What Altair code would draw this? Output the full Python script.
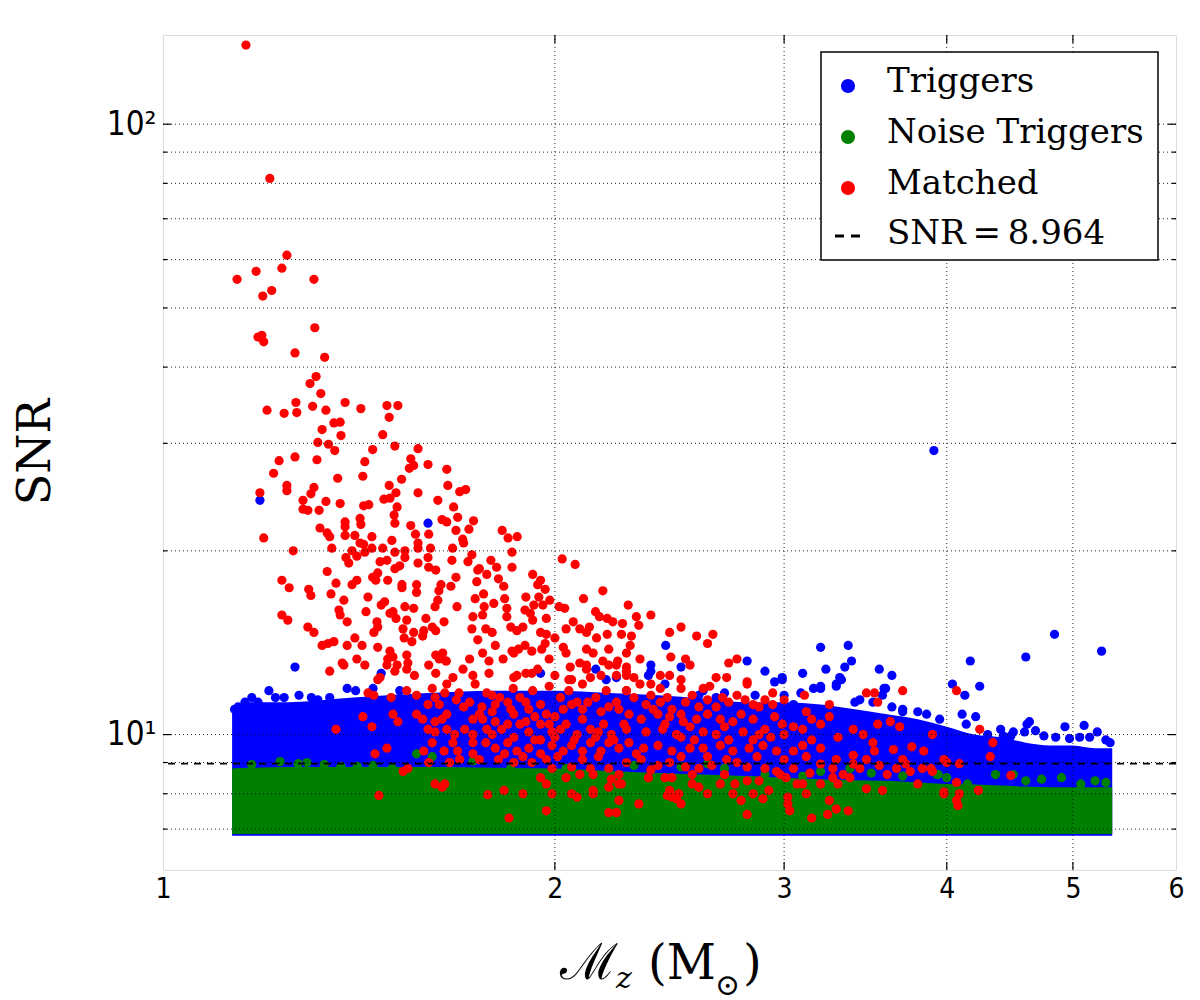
import altair as alt
import pandas as pd

# ---------------- data ----------------
matched_pts = [
    (1.158,134.8),(1.208,81.5),(1.245,61.0),(1.179,57.4),(1.234,58.1),(1.14,55.7),(1.306,55.7),(1.212,53.4),
    (1.193,52.3),(1.308,46.4),(1.191,45.1),(1.183,44.8),(1.195,44.0),(1.263,42.2),(1.331,41.5),
    (1.311,38.6),(1.297,37.6),(1.322,36.2),(1.265,35.0),(1.202,34.0),(1.239,33.6),(1.267,33.7),(1.303,34.5),
    (1.334,34.0),(1.380,35.0),(1.419,34.2),(1.486,34.6),(1.515,34.6),(1.492,33.1),(1.353,32.4),(1.368,32.5),
    (1.325,31.6),(1.37,30.9),(1.315,30.1),(1.34,29.9),(1.355,29.2),(1.475,31.0),(1.449,29.3),(1.507,29.7),
    (1.57,29.4),(1.228,28.1),(1.263,28.5),(1.313,28.2),(1.216,26.8),(1.429,28.0),(1.55,28.3),(1.558,27.6),
    (1.546,27.3),(1.598,27.7),(1.652,27.2),(1.362,26.3),(1.424,26.5),(1.525,26.2),(1.245,25.6),(1.245,25.1),
    (1.187,24.9),(1.306,25.4),(1.299,24.8),(1.492,25.6),(1.51,24.9),(1.57,24.9),(1.655,25.6),(1.69,25.0),
    (1.708,25.2),(1.281,24.2),(1.281,23.4),(1.292,23.3),(1.334,24.1),(1.368,23.9),(1.318,23.3),(1.426,23.7),
    (1.439,23.8),(1.478,24.3),(1.494,24.4),(1.513,23.6),(1.505,22.9),(1.507,22.2),(1.417,22.6),(1.419,22.1),
    (1.626,24.2),(1.672,23.6),(1.684,22.7),(1.638,22.5),(1.652,22.3),(1.732,22.4),(1.55,22.0),(1.38,22.3),
    (1.38,21.9),(1.32,21.8),(1.337,21.4),(1.343,21.1),(1.38,21.2),(1.404,21.2),(1.417,20.6),(1.426,20.5),
    (1.447,21.1),(1.447,20.2),(1.499,20.8),(1.563,21.3),(1.57,20.6),(1.57,20.2),(1.6,21.3),(1.605,20.2),
    (1.679,21.6),(1.699,20.9),(1.702,20.6),(1.718,21.7),(1.195,21.0),(1.259,20.0),(1.348,20.2),(1.397,20.0),
    (1.409,19.6),(1.429,19.9),(1.475,20.2),(1.507,19.9),(1.534,20.0),(1.534,19.5),(1.382,19.5),(1.389,19.1),
    (1.468,19.2),(1.486,19.3),(1.669,20.2),(1.667,19.3),(1.715,19.2),(1.727,19.7),(1.598,19.5),(1.6,18.8),
    (1.62,18.6),(1.57,19.1),(1.507,18.7),(1.52,18.9),(1.745,18.6),(1.337,18.5),(1.234,17.9),(1.25,17.4),
    (1.358,17.7),(1.397,17.6),(1.409,17.9),(1.449,18.1),(1.462,18.4),(1.457,17.9),(1.488,17.9),(1.526,17.6),
    (1.526,17.4),(1.566,17.6),(1.566,17.1),(1.635,17.6),(1.679,18.1),(1.664,17.5),(1.629,17.2),(1.294,17.3),
    (1.299,16.9),(1.346,17.0),(1.377,16.6),(1.437,16.8),(1.471,16.3),(1.48,16.5),(1.534,16.2),(1.558,16.1),
    (1.502,15.9),(1.618,16.2),(1.626,16.6),(1.682,16.2),(1.234,15.7),(1.247,15.4),(1.365,16.0),(1.368,15.7),
    (1.385,15.3),(1.432,15.9),(1.494,15.8),(1.51,15.5),(1.539,15.4),(1.592,15.5),(1.644,15.3),(1.46,15.3),
    (1.462,15.0),(1.452,14.7),(1.529,14.9),(1.558,14.7),(1.586,14.8),(1.61,15.0),(1.292,15.0),(1.306,14.7),
    (1.325,14.0),(1.339,14.1),(1.353,14.2),(1.385,14.0),(1.404,14.4),(1.422,14.0),(1.462,13.9),(1.494,13.7),
    (1.532,14.4),(1.553,14.2),(1.583,14.5),(1.62,14.8),(1.343,12.7),(1.373,13.1),(1.377,13.0),(1.409,13.3),
    (1.429,13.0),(1.488,13.3),(1.502,13.4),(1.507,12.7),(1.539,13.5),(1.542,13.1),(1.513,13.0),(1.62,13.5),
    (1.63,13.3),(1.64,13.6),(1.65,13.2),
    (1.822,21.6),(1.841,21.0),(1.871,21.1),(1.854,19.9),(1.786,19.3),(1.804,18.8),(1.75,18.7),(1.773,18.3),
    (1.854,18.8),(1.81,18.0),(1.827,17.5),(1.923,18.3),(1.95,17.9),(1.94,17.6),(1.966,17.3),(2.026,19.4),
    (2.073,19.0),(1.742,17.8),(1.763,17.0),(1.83,16.7),(1.9,16.8),(1.944,16.8),(1.982,16.6),(2.104,16.7),
    (2.177,17.2),(2.277,16.3),(1.737,16.7),(1.795,16.4),(1.927,16.3),(1.958,16.3),(2.015,16.2),(2.035,16.1),
    (1.837,16.1),(1.897,16.0),(1.765,16.2),(1.73,15.6),(1.76,15.7),(1.837,15.6),(1.915,15.8),(1.923,15.4),
    (1.97,15.5),(2.149,15.9),(2.164,15.6),(2.194,15.5),(2.216,15.3),(2.254,15.2),(2.31,15.6),(2.37,15.7),
    (2.32,15.1),(2.066,15.3),(1.727,14.9),(1.77,14.9),(1.79,14.7),(1.85,15.0),(1.87,14.8),(1.89,15.0),
    (1.95,14.7),(1.97,14.6),(2.04,14.9),(2.09,14.9),(2.115,14.7),(2.126,15.0),(2.153,14.4),(2.194,14.6),
    (2.25,14.6),(2.29,14.5),(2.45,14.7),(2.5,15.0),(2.57,14.5),(2.645,14.6),(2.62,14.1),(1.745,14.3),
    (1.8,14.0),(1.854,13.7),(1.875,13.8),(1.897,14.0),(1.92,13.7),(1.954,13.8),(1.966,14.1),(2.0,14.4),
    (2.03,13.9),(2.04,13.6),(2.115,13.8),(2.14,13.6),(2.2,13.8),(2.27,13.6),(2.285,14.0),(1.76,13.6),
    (1.78,13.2),(1.825,13.3),(1.86,13.6),(1.98,13.3),(2.09,13.1),(2.115,13.0),(2.055,12.9),(2.177,13.2),
    (2.2,13.0),(2.235,13.2),(2.27,12.9),(2.325,13.3),(2.455,13.4),(2.52,13.3),(2.54,13.0),(2.72,13.1),
    (2.76,13.3),(1.94,12.8),(1.9,12.6),(1.86,12.4),(2.0,12.5),(2.05,12.3),(1.78,12.6),(2.13,12.4),
    (2.23,12.5),(2.3,12.4),(1.87,12.5),(1.92,12.6),(2.06,12.3),(2.115,12.8),(2.17,12.5),(2.23,13.0),
    (2.27,12.5),(1.462,12.3),(1.468,12.4),(1.486,13.0),(1.539,12.8),(1.56,12.5),(1.6,13.0),(1.62,12.6),
    (1.65,13.2),(1.67,12.4),(1.7,12.8),(1.72,13.3),(1.73,12.5),
    (3.7,11.8),(3.47,11.7),(3.52,11.7),(3.11,11.6),(4.07,11.8),
    (1.437,11.7),(1.452,11.6),(1.497,11.5),(1.539,11.8),(1.566,11.6),(1.61,11.9),(1.618,11.5),(1.652,12.1),
    (1.646,11.7),(1.688,11.7),(1.737,12.1),(1.598,11.2),(1.63,11.2),(1.702,11.1),(1.566,10.8),(1.583,10.6),
    (1.618,10.5),(1.638,10.6),(1.652,10.8),(1.73,10.6),(1.424,10.7),(1.502,10.8),(1.515,10.5),(1.358,10.2),
    (1.447,10.3),(1.598,10.2),(1.618,10.1),(1.652,10.2),(1.675,10.0),(1.705,10.2),(1.73,10.0),(1.61,9.7),
    (1.67,9.7),(1.73,9.7),(1.486,9.5),(1.455,9.3),(1.586,9.4),(1.644,9.4),(1.684,9.4),(1.69,9.1),
    (1.73,9.3),(1.529,8.7),(1.542,8.8),(1.618,8.3),(1.638,8.2),(1.646,8.3),(1.465,7.95),(1.776,7.97),
    (1.828,8.1),(1.89,8.0),(1.844,7.3),(1.97,7.5),(1.99,8.0),(2.06,8.0),(2.08,7.9),(2.14,8.1),
    (2.14,8.0),(2.2,8.2),(2.24,7.8),(2.2,7.45),(2.23,7.45),(2.25,8.3),
    (1.773,11.7),(1.79,11.6),(1.814,11.5),(1.858,11.9),(1.88,11.5),(1.923,11.8),(1.95,11.2),(1.98,12.0),
    (2.02,11.5),(2.05,11.8),(2.08,11.3),(2.1,12.1),(2.15,11.5),(2.19,11.8),(2.23,11.3),(2.27,11.8),
    (1.758,11.1),(1.79,10.9),(1.85,11.0),(1.91,11.0),(1.97,10.8),(2.03,11.0),(2.1,11.0),(2.17,10.9),
    (2.24,11.0),(1.76,10.6),(1.773,10.2),(1.82,10.2),(1.86,10.8),(1.88,10.4),(1.91,10.1),(1.95,10.4),
    (1.99,10.1),(2.04,10.4),(2.08,10.0),(2.13,10.2),(2.18,10.4),(2.21,10.0),(2.26,10.4),(1.77,9.7),
    (1.8,9.5),(1.84,9.7),(1.87,9.4),(1.91,9.5),(1.95,9.8),(1.95,9.3),(1.99,9.6),(2.03,9.4),
    (2.06,9.6),(2.1,9.4),(2.13,9.7),(2.17,9.4),(2.2,9.7),(2.24,9.5),(1.81,9.1),(1.86,9.0),
    (1.92,9.0),(1.97,9.1),(1.99,8.8),(2.06,8.85),(2.1,9.1),(2.13,8.8),(2.14,8.6),(2.2,8.8),
    (2.24,8.6),(1.95,8.5),(1.97,8.3),(2.04,8.5),(2.09,8.6),(2.21,8.45),
    (1.68,11.4),(1.72,11.3),(1.75,10.8),(1.8,11.2),(1.84,11.3),(1.9,11.3),(1.93,10.7),(2.0,10.7),
    (2.06,11.2),(2.12,11.3),(2.2,11.1),(1.8,10.5),(1.84,10.4),(1.9,10.5),(1.98,10.4),(2.02,10.2),
    (2.1,10.6),(2.16,10.1),(1.79,10.0),(1.86,9.9),(1.93,9.8),(2.0,9.9),(2.07,9.8),(2.15,9.9),
    (2.22,9.8),(1.75,9.1),(1.83,9.3),(1.89,9.2),(2.01,9.2),(2.16,9.2),(1.6,9.0),(1.66,9.0),
    (2.37,11.6),(2.44,11.5),(2.55,11.6),(2.62,11.4),(2.69,11.5),(2.8,11.4),(2.9,11.4),(2.38,11.0),
    (2.43,10.4),(2.5,10.8),(2.54,10.3),(2.62,10.8),(2.7,10.3),(2.78,10.8),(2.95,10.7),(3.0,10.0),
    (3.12,10.9),(3.2,10.4),(2.5,9.9),(2.56,9.8),(2.72,9.8),(2.84,9.8),(2.93,9.9),(3.15,9.8),
    (3.3,9.9),(3.45,10.0),(2.31,9.3),(2.5,9.2),(2.62,9.2),(2.71,9.1),(2.86,9.2),(3.0,9.1),
    (3.12,9.2),(3.47,9.1),(3.7,9.1),(2.37,8.75),(2.55,8.6),(2.7,8.6),(2.98,8.6),(3.14,8.65),
    (3.33,8.6),(3.55,8.9),(3.72,8.95),(3.3,8.3),(2.62,8.0),(2.92,8.1),(3.12,8.0),
    (2.41,12.5),(2.45,12.5),(2.5,12.3),(2.27,12.7),(2.325,12.1),(2.37,12.1),(2.66,12.4),(2.71,12.4),
    (2.81,12.2),(2.81,12.1),(2.6,11.9),(2.63,12.0),(2.27,11.8),(2.41,11.9),(2.5,11.9),(2.94,11.7),
    (2.3,11.5),(2.35,11.2),(2.41,11.3),(2.46,11.0),(2.52,11.3),(2.58,11.1),(2.66,11.1),(2.72,11.3),
    (2.76,11.6),(2.84,11.2),(2.87,11.1),(2.94,11.2),(3.0,11.4),(3.25,11.2),(2.28,10.8),(2.33,10.6),
    (2.4,10.8),(2.45,10.7),(2.51,10.5),(2.57,10.6),(2.68,10.6),(2.74,10.5),(2.84,10.6),(2.9,10.2),
    (2.99,10.4),(3.05,10.3),(3.1,10.2),(3.15,10.6),(3.25,10.7),(3.39,10.2),(3.54,10.4),(3.62,10.5),
    (3.68,10.3),(3.54,11.3),(2.27,10.2),(2.35,10.1),(2.42,10.2),(2.48,10.0),(2.6,10.1),(2.66,10.0),
    (2.79,10.1),(2.87,10.0),
    (2.28,9.7),(2.34,9.5),(2.4,9.6),(2.46,9.4),(2.54,9.5),(2.6,9.5),(2.68,9.6),(2.74,9.4),
    (2.82,9.5),(2.89,9.6),(2.96,9.4),(3.05,9.4),(3.1,9.6),(3.2,9.5),(3.29,9.1),(3.39,9.25),
    (3.51,9.7),(3.52,9.4),(3.64,9.45),(3.76,9.55),(3.84,9.4),(3.9,10.0),(3.98,9.1),(2.27,9.0),
    (2.33,9.1),(2.4,8.9),(2.45,9.0),(2.52,8.85),(2.58,8.8),(2.64,8.9),(2.76,9.0),(2.81,8.85),
    (2.9,8.8),(2.96,8.7),(3.05,8.8),(3.2,8.95),(3.27,8.8),(3.39,8.95),(3.43,8.8),(3.6,8.6),
    (3.66,8.8),(3.75,8.7),(3.83,8.8),(3.89,8.8),
    (2.24,8.3),(2.36,8.5),(2.43,8.5),(2.46,8.5),(2.55,8.3),(2.58,8.2),(2.68,8.3),(2.75,8.3),
    (2.81,8.4),(2.87,8.4),(3.01,8.5),(3.07,8.3),(3.1,8.3),(3.2,8.3),(3.27,8.5),(3.37,8.5),
    (3.47,8.15),(3.57,8.1),(3.8,8.3),(3.98,8.0),(2.45,8.1),(2.49,8.0),(2.44,7.95),(2.46,7.9),
    (2.48,7.85),(2.5,7.7),(2.32,7.7),(2.74,8.0),(2.78,7.8),(2.84,8.0),(2.89,7.85),(3.02,7.9),
    (3.02,7.7),(3.03,7.5),(2.81,7.4),(3.15,7.3),(3.25,7.8),(3.24,7.4),(3.29,7.55),(3.36,7.5),
    (4.24,10.2),(4.34,9.7),(4.32,9.2),(4.0,9.0),(4.09,8.96),(3.9,8.7),(4.48,8.57),(4.07,8.35),
    (3.98,8.05),(4.09,8.0),(4.23,8.1),(4.07,7.8),(4.08,7.65),
]

trigger_pts = [
    (1.187,24.2),(1.598,22.2),(1.263,12.9),(1.471,12.6),(2.433,14.0),(2.37,13.0),(2.37,12.7),(2.5,12.9),
    (2.81,13.2),(2.9,12.7),(3.2,13.9),(3.36,14.0),(3.38,13.2),(3.23,12.8),(3.34,12.9),(3.1,12.6),
    (3.32,12.3),(3.29,12.0),(3.2,11.9),(3.16,11.9),(2.99,12.3),(3.55,12.8),(3.63,12.5),(3.58,11.9),
    (3.57,11.6),(3.09,11.7),(4.04,12.1),(4.17,13.2),(4.6,13.4),(4.84,14.6),(5.26,13.7),(3.91,29.2),
    (4.11,10.8),(4.14,10.4),(4.21,10.7),(4.03,10.0),(4.3,10.0),(4.63,10.5),(4.61,10.4),(4.59,10.1),
    (4.68,10.15),(4.93,10.3),(5.1,10.35),(5.22,10.1),(4.97,9.85),(5.06,9.9),(4.42,9.95),(4.48,9.95),
    (2.99,12.4),(2.95,12.2),(3.31,12.4),(3.29,12.1),(3.2,12.0),(3.59,11.9),(3.43,11.4),(3.51,11.3),
    (3.63,11.1),(3.7,10.9),(3.86,10.8),(3.05,11.2),(2.43,12.1),(2.36,12.5),(2.58,11.6),(2.66,11.5),
    (2.15,12.8),(1.95,12.6),(2.19,12.3),(2.23,12.4),(4.24,12.0),(4.13,11.6),
    (1.206,11.8),(1.17,11.5),(1.239,11.5),(1.272,11.6),(1.142,11.1),(1.156,11.3),(1.183,11.3),(1.315,11.4),
    (1.343,11.5),(1.385,11.9),(1.406,11.8),(1.362,11.2),
    (1.45,11.9),(1.52,11.8),(2.6,11.8),(2.7,11.7),(2.85,11.6),(3.0,11.6),(3.4,11.3),(3.7,11.0),
    (3.8,10.9),(3.95,10.6),(4.4,10.2),(4.5,10.1),(4.75,9.95),(4.85,9.9),(5.15,9.9),(5.3,9.8),
    (5.34,9.7),(1.135,11.0),(1.22,11.5),(1.3,11.5),
]

noise_pts = [
    (1.23,9.03),(1.27,8.96),(1.29,9.0),(1.17,8.93),(1.33,8.93),(1.37,8.87),(1.45,8.9),(1.5,8.8),
    (1.566,9.3),(1.61,9.2),(1.73,9.05),(1.41,8.87),(1.85,8.8),(2.04,8.8),(2.62,8.96),(3.37,8.8),
    (3.93,8.6),(3.94,8.6),(4.36,8.6),(4.5,8.6),(4.73,8.45),(4.9,8.5),(5.07,8.3),(4.15,8.3),
    (2.2,8.75),(2.9,8.6),(3.1,8.55),(2.3,8.9),(2.5,8.85),(2.7,8.8),(3.2,8.7),(3.5,8.65),
    (3.7,8.55),(4.0,8.5),(4.6,8.4),(5.2,8.4),(5.3,8.35),
]

# dense trigger / noise-trigger bands (upper and lower edges)
band_mass   = [1.13, 1.16, 1.25, 1.4, 1.6, 1.8, 2.0, 2.2, 2.4, 2.6, 2.8, 3.0,
               3.2, 3.4, 3.6, 3.8, 4.0, 4.2, 4.4, 4.6, 4.8, 5.0, 5.2, 5.36]
trig_top    = [10.9, 11.3, 11.3, 11.5, 11.7, 11.8, 11.8, 11.7, 11.6, 11.45, 11.3, 11.3,
               11.2, 11.0, 10.8, 10.6, 10.3, 10.0, 9.9, 9.7, 9.6, 9.6, 9.5, 9.5]
trig_bottom = [6.83] * len(band_mass)
noise_top   = [8.8, 8.82, 8.85, 8.85, 8.85, 8.82, 8.8, 8.72, 8.65, 8.6, 8.55, 8.5,
               8.45, 8.42, 8.4, 8.35, 8.3, 8.28, 8.25, 8.22, 8.2, 8.2, 8.2, 8.2]
noise_bottom = [6.87] * len(band_mass)

snr_threshold = 8.964
x_ticks = [1, 2, 3, 4, 5, 6]
x_grid = [2, 3, 4, 5]
y_major = [10, 100]
y_minor = [7, 8, 9, 20, 30, 40, 50, 60, 70, 80, 90]
legend_labels = ["Triggers", "Noise Triggers", "Matched", "SNR\u2009=\u20098.964"]
colors = {"Triggers": "#0000ff", "Noise Triggers": "#008000", "Matched": "#ff0000"}

# ---------------- frames ----------------
def pts_df(pts):
    return pd.DataFrame({"mass": [p[0] for p in pts], "snr": [p[1] for p in pts]})

red_df = pts_df(matched_pts)
blue_df = pts_df(trigger_pts)
green_df = pts_df(noise_pts)
band_df = pd.DataFrame({"mass": band_mass, "t_top": trig_top, "t_bot": trig_bottom,
                        "n_top": noise_top, "n_bot": noise_bottom})
thr_df = pd.DataFrame({"snr": [snr_threshold]})
xgrid_df = pd.DataFrame({"mass": x_grid})
ymaj_df = pd.DataFrame({"snr": y_major})
ymin_df = pd.DataFrame({"snr": y_minor})
yall_df = pd.DataFrame({"snr": y_major + y_minor})
one = pd.DataFrame({"k": [0]})

W, H = 1013, 835
xs = alt.Scale(type="log", domain=[1, 6], nice=False, zero=False)
ys = alt.Scale(type="log", domain=[6, 140], nice=False, zero=False)

tick_font = "DejaVu Sans Condensed, DejaVu Sans, sans-serif"
ax_common = dict(grid=False, ticks=False, domain=False, title=None, labelColor="black")
x_axis = alt.Axis(values=x_ticks, format="d", labelFont=tick_font, labelFontSize=28,
                  labelPadding=5, labelFlush=False, labelOverlap=False, **ax_common)
y_axis = alt.Axis(values=y_major + y_minor,
                  labelExpr="datum.value == 10 ? '10\u00b9' : (datum.value == 100 ? '10\u00b2' : '')",
                  labelFont=tick_font, labelFontSize=33, labelPadding=7,
                  labelOverlap=False, labelFlush=False, **ax_common)

X = alt.X("mass:Q", scale=xs, axis=x_axis)
Y = alt.Y("snr:Q", scale=ys, axis=y_axis)

base_band = alt.Chart(band_df)
blue_band = base_band.mark_area(color=colors["Triggers"], interpolate="monotone").encode(
    x=alt.X("mass:Q", scale=xs, axis=x_axis), y=alt.Y("t_top:Q", scale=ys, axis=y_axis), y2="t_bot:Q")
green_band = base_band.mark_area(color=colors["Noise Triggers"], interpolate="monotone").encode(
    x=alt.X("mass:Q", scale=xs), y=alt.Y("n_top:Q", scale=ys), y2="n_bot:Q")

PT = 85
blue_pts = alt.Chart(blue_df).mark_circle(size=PT, opacity=1, color=colors["Triggers"]).encode(x=X, y=Y)
green_pts = alt.Chart(green_df).mark_circle(size=PT, opacity=1, color=colors["Noise Triggers"]).encode(x=X, y=Y)
red_pts = alt.Chart(red_df).mark_circle(size=PT, opacity=1, color=colors["Matched"]).encode(x=X, y=Y)

# dotted grid drawn above the points (as in the reference), below the legend
grid_style = dict(color="black", strokeDash=[1, 3], strokeWidth=1, opacity=0.85)
xgrid = alt.Chart(xgrid_df).mark_rule(**grid_style).encode(x=alt.X("mass:Q", scale=xs))
ygrid = alt.Chart(yall_df).mark_rule(**grid_style).encode(y=alt.Y("snr:Q", scale=ys))
thr = alt.Chart(thr_df).mark_rule(color="black", strokeDash=[7, 6], strokeWidth=1.6).encode(
    y=alt.Y("snr:Q", scale=ys))

# inward ticks on all four sides
tk = dict(color="black", strokeWidth=1.2)
ticks = [
    alt.Chart(xgrid_df).mark_rule(**tk).encode(x=alt.X("mass:Q", scale=xs), y=alt.value(H), y2=alt.value(H - 8)),
    alt.Chart(xgrid_df).mark_rule(**tk).encode(x=alt.X("mass:Q", scale=xs), y=alt.value(0), y2=alt.value(8)),
    alt.Chart(ymaj_df).mark_rule(**tk).encode(y=alt.Y("snr:Q", scale=ys), x=alt.value(0), x2=alt.value(8)),
    alt.Chart(ymaj_df).mark_rule(**tk).encode(y=alt.Y("snr:Q", scale=ys), x=alt.value(W - 8), x2=alt.value(W)),
    alt.Chart(ymin_df).mark_rule(**tk).encode(y=alt.Y("snr:Q", scale=ys), x=alt.value(0), x2=alt.value(4)),
    alt.Chart(ymin_df).mark_rule(**tk).encode(y=alt.Y("snr:Q", scale=ys), x=alt.value(W - 4), x2=alt.value(W)),
]

# ---------------- legend (drawn by hand) ----------------
serif = "DejaVu Serif"
leg_box = alt.Chart(one).mark_rect(fill="white", stroke="black", strokeWidth=1.5).encode(
    x=alt.value(658), x2=alt.value(995), y=alt.value(17), y2=alt.value(225))
leg_items = [leg_box]
sym_y = [51, 102, 153]
txt_y = [57, 108, 159, 209]
for i, lab in enumerate(legend_labels[:3]):
    leg_items.append(alt.Chart(one).mark_circle(size=200, opacity=1, color=colors[lab]).encode(
        x=alt.value(685), y=alt.value(sym_y[i])))
leg_items.append(alt.Chart(one).mark_rule(color="black", strokeWidth=3, strokeDash=[9, 7]).encode(
    x=alt.value(672), x2=alt.value(697), y=alt.value(201)))
for i, lab in enumerate(legend_labels):
    leg_items.append(alt.Chart(one).mark_text(text=lab, font=serif, fontSize=34, align="left",
                                              baseline="alphabetic", color="black").encode(
        x=alt.value(724), y=alt.value(txt_y[i])))

# ---------------- axis titles ----------------
ytitle = alt.Chart(one).mark_text(text="SNR", font=serif, fontSize=46, angle=270, align="center",
                                  baseline="alphabetic", color="black").encode(
    x=alt.value(-113), y=alt.value(417))
xt = [
    ("\u2133", 397, 944, 50, "normal"),
    ("z", 453, 953, 30, "italic"),
    ("(M", 485, 944, 48, "normal"),
    ("\u2299", 552, 960, 30, "normal"),
    (")", 580, 944, 48, "normal"),
]
xtitle = [alt.Chart(one).mark_text(text=t, font=serif, fontSize=fs, fontStyle=st, align="left",
                                   baseline="alphabetic", color="black").encode(
    x=alt.value(px), y=alt.value(py)) for (t, px, py, fs, st) in xt]

chart = alt.layer(blue_band, blue_pts, green_band, green_pts, red_pts, xgrid, ygrid, thr, *ticks,
                  ytitle, *xtitle, *leg_items).properties(
    width=W, height=H,
    autosize=alt.AutoSizeParams(type="none"),
    padding={"left": 155, "top": 27, "right": 16, "bottom": 150},
).configure_view(stroke="black", strokeWidth=2.5).configure(background="white")

chart.save("out.html", embed_options={"renderer": "svg", "actions": False})
